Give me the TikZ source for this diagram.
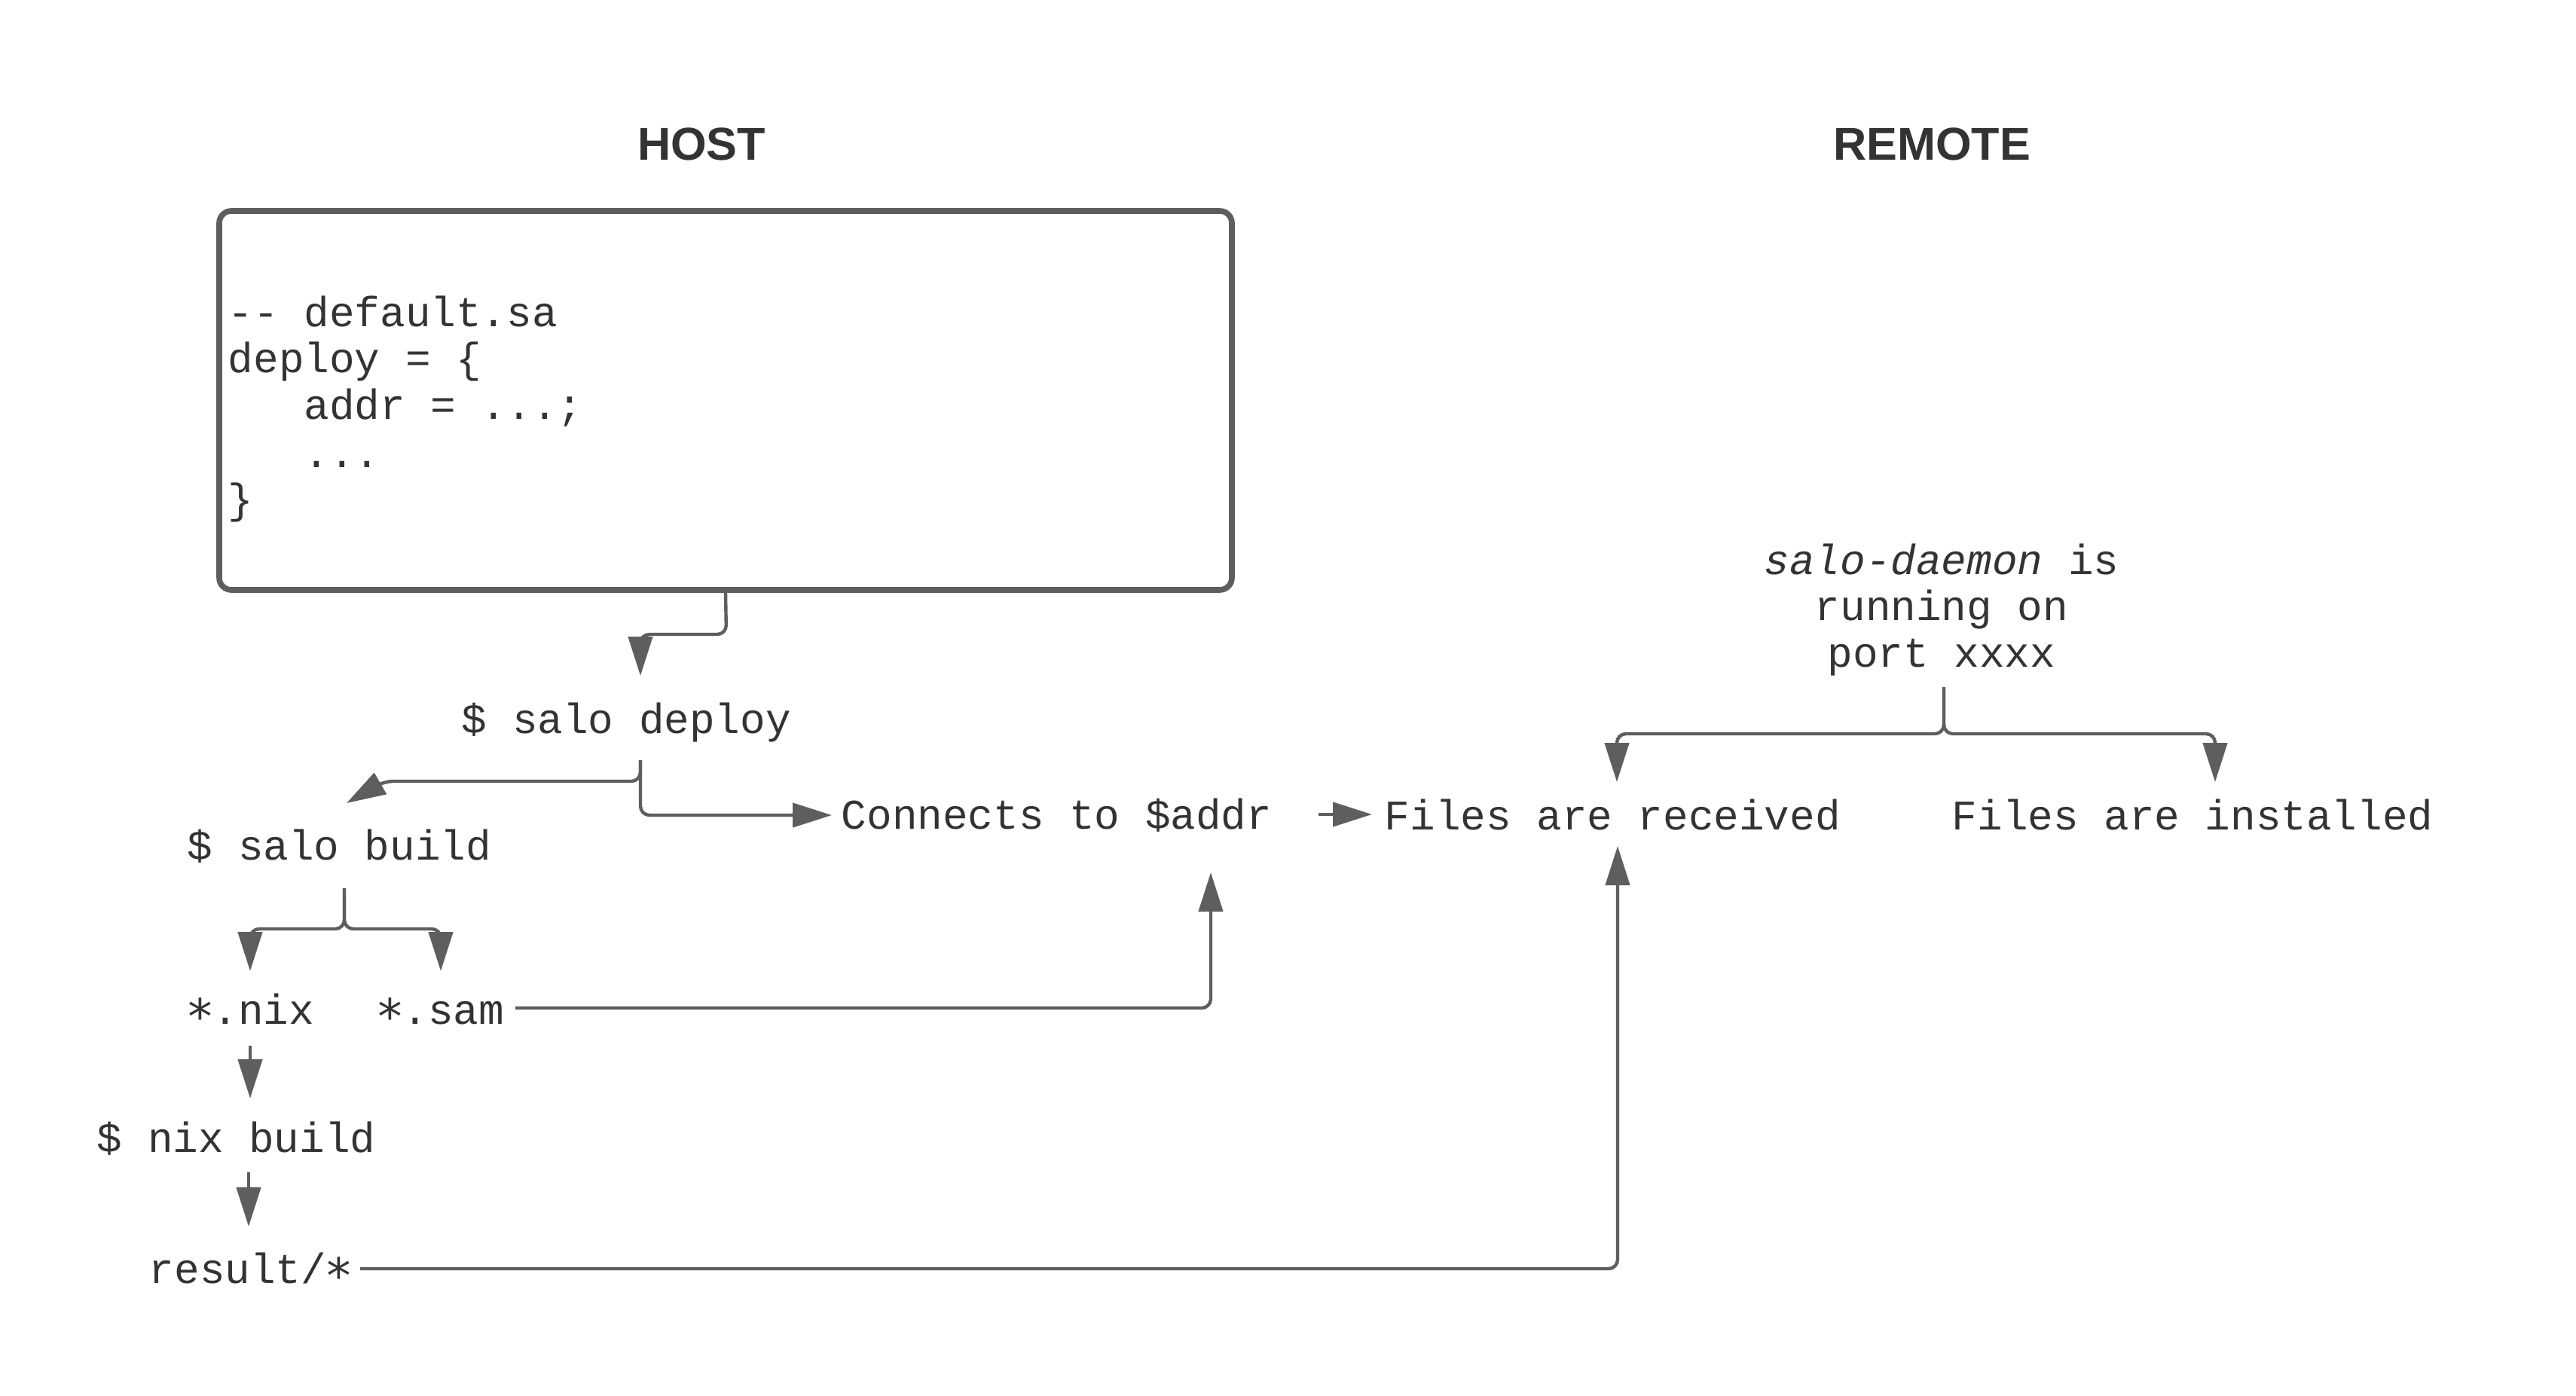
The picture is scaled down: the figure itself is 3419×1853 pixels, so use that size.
\documentclass[tikz,border=0pt]{standalone}
\usepackage{fontspec}
\setmonofont{Liberation Mono}
\newfontfamily\hdfont{Liberation Sans}
\newfontfamily\symfont{DejaVu Sans Mono}
\usetikzlibrary{arrows.meta}
\definecolor{ln}{HTML}{5E5E5E}
\definecolor{tx}{HTML}{333333}
\newcommand\stsym{\makebox[0.6em][c]{\symfont\scalebox{1.15}{∗}}}
\begin{document}
\begin{tikzpicture}[x=0.25pt,y=-0.25pt,
  txt/.style={inner sep=0pt, anchor=base west, font=\ttfamily\fontsize{14pt}{15.5pt}\selectfont, text=tx},
  ctxt/.style={txt, anchor=base},
  hd/.style={inner sep=0pt, anchor=base, font=\hdfont\bfseries\fontsize{15.3pt}{18pt}\selectfont, text=tx},
  conn/.style={draw=ln, line width=1.1pt, rounded corners=3pt, -{Triangle[length=13pt,width=8pt]}},
]
\useasboundingbox[fill=white] (0,0) rectangle (3419,1853);

% headers
\node[hd] (host) at (931,212) {HOST};
\node[hd] (remote) at (2564,212) {REMOTE};

% code box
\node[draw=ln, line width=1.9pt, rounded corners=4pt, minimum width=336pt, minimum height=125.75pt, inner sep=0pt] (box) at (963,531.5) {};
\node[txt] (c1) at (302,433) {-{}- default.sa};
\node[txt] (c2) at (302,494) {deploy = \{};
\node[txt] (c3) at (302,556) {\phantom{000}addr = ...;};
\node[txt] (c4) at (302,620) {\phantom{000}...};
\node[txt] (c5) at (302,681) {\}};

% host side
\node[txt] (deploy) at (612,973) {\$ salo deploy};
\node[txt] (build) at (248,1141) {\$ salo build};
\node[txt] (nix) at (248,1359) {\stsym.nix};
\node[txt] (sam) at (500,1359) {\stsym.sam};
\node[txt] (nixb) at (128,1529) {\$ nix build};
\node[txt] (res) at (197,1703) {result/\stsym};
\node[txt] (addr) at (1116,1100) {Connects to \$addr};

% remote side
\node[txt] (recv) at (1837,1101) {Files are received};
\node[txt] (inst) at (2590,1101) {Files are installed};
\node[ctxt] (d1) at (2577,762) {\textit{salo-daemon} is};
\node[ctxt] (d2) at (2577,823) {running on};
\node[ctxt] (d3) at (2577,885) {port xxxx};

% coordinates
\coordinate (tDeploy) at (850,897);
\coordinate (sDeploy) at (850,1009);
\coordinate (tBuild) at (460,1066);
\coordinate (tAddr) at (1104,1082);
\coordinate (sBuild) at (457,1179);
\coordinate (tNix) at (332,1289);
\coordinate (tSam) at (585,1289);
\coordinate (sNix) at (332,1388);
\coordinate (tNixb) at (332,1458);
\coordinate (sNixb) at (330,1556);
\coordinate (tRes) at (330,1628);
\coordinate (sSam) at (684,1338);
\coordinate (tAddrUp) at (1607,1158);
\coordinate (sRes) at (478,1684);
\coordinate (tRecvUp) at (2147,1123);
\coordinate (sAddr) at (1750,1081);
\coordinate (tRecv) at (1821,1081);
\coordinate (sDaemon) at (2580,912);
\coordinate (tRecvDn) at (2146,1038);
\coordinate (tInstDn) at (2940,1038);

% connectors
\draw[conn] (box.south) -- (964,842) -| (tDeploy);
\draw[conn] (sDeploy) -- (850,1037) -- (510,1037) -- (tBuild);
\draw[conn] (sDeploy) |- (tAddr);
\draw[conn] (sBuild) -- (457,1233) -| (tNix);
\draw[conn] (sBuild) -- (457,1233) -| (tSam);
\draw[conn] (sNix) -- (tNixb);
\draw[conn] (sNixb) -- (tRes);
\draw[conn] (sSam) -| (tAddrUp);
\draw[conn] (sRes) -| (tRecvUp);
\draw[conn] (sAddr) -- (tRecv);
\draw[conn] (sDaemon) -- (2580,974) -| (tRecvDn);
\draw[conn] (sDaemon) -- (2580,974) -| (tInstDn);
\end{tikzpicture}
\end{document}
